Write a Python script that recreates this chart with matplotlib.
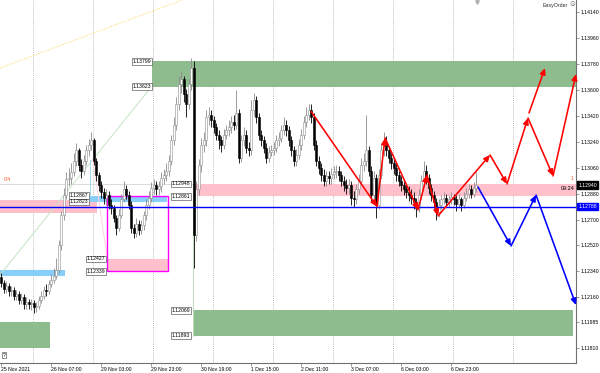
import matplotlib
matplotlib.use("Agg")
import matplotlib.pyplot as plt
import matplotlib.transforms as mtransforms
import numpy as np
from matplotlib.patches import Rectangle

plt.rcParams['font.family'] = ['Liberation Sans', 'DejaVu Sans']

# EURUSD H1, bars from 25 Nov 2021 11:00 to 7 Dec 2021 09:00
first_open = 1.1230
close = [1.1226, 1.1222, 1.1224, 1.1220, 1.1221, 1.1217, 1.1218, 1.1214, 1.1216, 1.1211,
         1.1213, 1.1211, 1.1212, 1.1209, 1.1210, 1.1214, 1.1217, 1.1221, 1.1220, 1.1225,
         1.1228, 1.1231, 1.1235, 1.1252, 1.1273, 1.1287, 1.1298, 1.1299, 1.1303, 1.1311,
         1.1318, 1.1308, 1.1304, 1.1311, 1.1318, 1.1322, 1.1325, 1.1311, 1.1301, 1.1294,
         1.1289, 1.1285, 1.1287, 1.1280, 1.1278, 1.1271, 1.1264, 1.1273, 1.1284, 1.1291,
         1.1287, 1.1280, 1.1264, 1.1261, 1.1267, 1.1263, 1.1266, 1.1273, 1.1280, 1.1285,
         1.1292, 1.1294, 1.1291, 1.1293, 1.1299, 1.1301, 1.1304, 1.1311, 1.1325, 1.1336,
         1.1350, 1.1364, 1.1368, 1.1357, 1.1350, 1.1364, 1.1375, 1.1259, 1.1291, 1.1308,
         1.1322, 1.1325, 1.1341, 1.1343, 1.1339, 1.1334, 1.1329, 1.1325, 1.1322, 1.1329,
         1.1332, 1.1334, 1.1338, 1.1336, 1.1344, 1.1313, 1.1325, 1.1329, 1.1320, 1.1318,
         1.1346, 1.1353, 1.1341, 1.1329, 1.1325, 1.1320, 1.1313, 1.1317, 1.1318, 1.1320,
         1.1325, 1.1327, 1.1332, 1.1336, 1.1332, 1.1325, 1.1318, 1.1311, 1.1315, 1.1322,
         1.1329, 1.1338, 1.1343, 1.1346, 1.1341, 1.1322, 1.1311, 1.1306, 1.1301, 1.1297,
         1.1300, 1.1299, 1.1302, 1.1303, 1.1304, 1.1301, 1.1297, 1.1294, 1.1292, 1.1294,
         1.1285, 1.1284, 1.1291, 1.1297, 1.1308, 1.1311, 1.1318, 1.1304, 1.1287, 1.1299,
         1.1280, 1.1301, 1.1318, 1.1324, 1.1318, 1.1313, 1.1309, 1.1306, 1.1301, 1.1297,
         1.1294, 1.1291, 1.1289, 1.1287, 1.1285, 1.1282, 1.1278, 1.1287, 1.1297, 1.1304,
         1.1299, 1.1292, 1.1287, 1.1282, 1.1275, 1.1280, 1.1284, 1.1285, 1.1282, 1.1284,
         1.1286, 1.1284, 1.1281, 1.1284, 1.1280, 1.1285, 1.1288, 1.1291, 1.1288, 1.1292,
         1.1294]
high = [1.1233, 1.1228, 1.1227, 1.1226, 1.1224, 1.1223, 1.1221, 1.1220, 1.1219, 1.1218,
        1.1216, 1.1215, 1.1215, 1.1214, 1.1213, 1.1217, 1.1220, 1.1224, 1.1225, 1.1228,
        1.1232, 1.1236, 1.1243, 1.1256, 1.1276, 1.1292, 1.1303, 1.1306, 1.1309, 1.1316,
        1.1323, 1.1320, 1.1312, 1.1315, 1.1322, 1.1326, 1.1331, 1.1327, 1.1313, 1.1303,
        1.1297, 1.1292, 1.1291, 1.1290, 1.1284, 1.1280, 1.1273, 1.1277, 1.1288, 1.1297,
        1.1294, 1.1290, 1.1283, 1.1267, 1.1271, 1.1270, 1.1270, 1.1276, 1.1284, 1.1290,
        1.1296, 1.1298, 1.1297, 1.1297, 1.1303, 1.1305, 1.1309, 1.1315, 1.1329, 1.1341,
        1.1355, 1.1370, 1.1373, 1.1370, 1.1361, 1.1368, 1.1382, 1.1380, 1.1297, 1.1312,
        1.1327, 1.1331, 1.1346, 1.1348, 1.1346, 1.1342, 1.1337, 1.1332, 1.1328, 1.1333,
        1.1336, 1.1339, 1.1342, 1.1343, 1.1360, 1.1347, 1.1329, 1.1334, 1.1332, 1.1324,
        1.1353, 1.1358, 1.1356, 1.1344, 1.1332, 1.1328, 1.1323, 1.1321, 1.1322, 1.1324,
        1.1329, 1.1331, 1.1336, 1.1341, 1.1339, 1.1335, 1.1328, 1.1321, 1.1319, 1.1326,
        1.1333, 1.1342, 1.1348, 1.1350, 1.1350, 1.1344, 1.1325, 1.1314, 1.1309, 1.1305,
        1.1304, 1.1304, 1.1306, 1.1307, 1.1308, 1.1307, 1.1304, 1.1300, 1.1298, 1.1298,
        1.1297, 1.1290, 1.1295, 1.1302, 1.1313, 1.1316, 1.1343, 1.1321, 1.1307, 1.1304,
        1.1302, 1.1305, 1.1323, 1.1331, 1.1328, 1.1321, 1.1316, 1.1312, 1.1309, 1.1304,
        1.1300, 1.1297, 1.1295, 1.1293, 1.1291, 1.1289, 1.1285, 1.1291, 1.1301, 1.1311,
        1.1308, 1.1302, 1.1295, 1.1290, 1.1285, 1.1284, 1.1287, 1.1289, 1.1288, 1.1287,
        1.1289, 1.1288, 1.1287, 1.1288, 1.1286, 1.1289, 1.1292, 1.1295, 1.1294, 1.1296,
        1.1303]
low = [1.1223, 1.1219, 1.1219, 1.1217, 1.1217, 1.1214, 1.1214, 1.1211, 1.1211, 1.1208,
       1.1208, 1.1208, 1.1207, 1.1205, 1.1206, 1.1208, 1.1212, 1.1215, 1.1217, 1.1218,
       1.1223, 1.1226, 1.1229, 1.1233, 1.1249, 1.1270, 1.1284, 1.1293, 1.1295, 1.1300,
       1.1307, 1.1304, 1.1299, 1.1301, 1.1308, 1.1314, 1.1318, 1.1308, 1.1297, 1.1290,
       1.1285, 1.1281, 1.1280, 1.1277, 1.1274, 1.1268, 1.1259, 1.1262, 1.1271, 1.1282,
       1.1284, 1.1277, 1.1261, 1.1257, 1.1258, 1.1259, 1.1260, 1.1263, 1.1270, 1.1277,
       1.1282, 1.1288, 1.1287, 1.1287, 1.1289, 1.1295, 1.1297, 1.1300, 1.1308, 1.1322,
       1.1332, 1.1346, 1.1358, 1.1352, 1.1341, 1.1347, 1.1360, 1.1236, 1.1255, 1.1287,
       1.1303, 1.1317, 1.1321, 1.1336, 1.1334, 1.1330, 1.1325, 1.1319, 1.1317, 1.1319,
       1.1326, 1.1328, 1.1330, 1.1332, 1.1333, 1.1309, 1.1310, 1.1321, 1.1316, 1.1314,
       1.1315, 1.1342, 1.1337, 1.1325, 1.1321, 1.1316, 1.1309, 1.1310, 1.1314, 1.1315,
       1.1317, 1.1321, 1.1324, 1.1329, 1.1328, 1.1321, 1.1314, 1.1307, 1.1307, 1.1312,
       1.1318, 1.1326, 1.1334, 1.1339, 1.1337, 1.1318, 1.1307, 1.1302, 1.1297, 1.1293,
       1.1293, 1.1295, 1.1295, 1.1298, 1.1299, 1.1297, 1.1293, 1.1290, 1.1288, 1.1288,
       1.1280, 1.1279, 1.1281, 1.1288, 1.1294, 1.1304, 1.1307, 1.1300, 1.1283, 1.1284,
       1.1271, 1.1277, 1.1298, 1.1314, 1.1314, 1.1309, 1.1305, 1.1302, 1.1297, 1.1293,
       1.1290, 1.1287, 1.1285, 1.1283, 1.1281, 1.1277, 1.1272, 1.1275, 1.1284, 1.1294,
       1.1295, 1.1288, 1.1283, 1.1278, 1.1270, 1.1272, 1.1277, 1.1281, 1.1279, 1.1279,
       1.1281, 1.1280, 1.1276, 1.1278, 1.1276, 1.1278, 1.1283, 1.1285, 1.1285, 1.1286,
       1.1289]

date_bars = [0, 20, 40, 60, 80, 100, 120, 140, 160, 180]
date_labels = ["25 Nov 2021", "26 Nov 07:00", "29 Nov 03:00", "29 Nov 23:00", "30 Nov 19:00",
               "1 Dec 15:00", "2 Dec 11:00", "3 Dec 07:00", "6 Dec 03:00", "6 Dec 23:00"]
day_starts = [13, 37, 61, 85, 109, 133, 157, 181, 205]
price_ticks = [1.14140, 1.13960, 1.13780, 1.13600, 1.13420, 1.13240, 1.13060,
               1.12880, 1.12700, 1.12520, 1.12340, 1.12160, 1.11985, 1.11810]
bid = 1.12940
blue_level = 1.12788
gray_level = 1.12948

# zones: bar from, bar to, upper price, lower price, colour
zones = [
    (60.3, 230.0, 1.13799, 1.13623, '#8fbc8f'),
    (76.7, 228.7, 1.12069, 1.11893, '#8fbc8f'),
    (-0.5, 19.5, 1.11986, 1.11810, '#8fbc8f'),
    (76.7, 230.0, 1.12948, 1.12861, '#ffc0cb'),
    (-0.5, 38.3, 1.12836, 1.12748, '#ffc0cb'),
    (42.5, 66.5, 1.12427, 1.12339, '#ffc0cb'),
    (35.5, 66.3, 1.12867, 1.12823, '#87cefa'),
    (-0.5, 25.5, 1.12349, 1.12310, '#87cefa'),
]
magenta_box = (42.3, 66.7, 1.12867, 1.12339)

# price tags: right edge bar, price
tags = [(59.9, 1.13799), (59.9, 1.13623), (75.6, 1.12948), (75.6, 1.12861),
        (75.6, 1.12069), (75.6, 1.11893), (34.7, 1.12867), (34.7, 1.12823),
        (41.6, 1.12427), (41.6, 1.12339)]

# thin trend lines: (bar0, price0, bar1, price1, colour, style)
trend_lines = [
    (-0.5, 1.13753, 72.3, 1.14226, '#ffd24d', ':'),
    (-0.5, 1.12315, 60.3, 1.13628, '#c4e4c4', '-'),
    (36.7, 1.13114, 42.3, 1.12440, '#ffd3dc', '-'),
    (35.5, 1.13114, 35.5, 1.12871, '#a6d8f2', '-'),
    (76.7, 1.12948, 76.7, 1.11893, '#b8dcb8', '-'),
]

red_hist_bars = [124.0, 150.3, 153.5, 166.7, 170.3, 174.7, 195.5, 202.3, 210.7]
red_hist_prices = [1.13450, 1.12790, 1.13267, 1.12767, 1.13010, 1.12725, 1.13149, 1.12947, 1.13406]
red_a_bars = [211.1, 217.5]
red_a_prices = [1.13441, 1.13753]
red_b_bars = [210.7, 220.7, 229.9]
red_b_prices = [1.13406, 1.13003, 1.13712]
blue_bars = [190.7, 203.9, 213.9, 229.9]
blue_prices = [1.12926, 1.12516, 1.12871, 1.12106]

fig = plt.figure(figsize=(6.0, 3.73), dpi=100)
ax = fig.add_axes([0.0, 10 / 373, 576 / 600, 363 / 373])
ax.set_xlim(-0.5, 229.9)
ax.set_ylim(1.11703, 1.14226)

# vertical grid on day starts
for d in day_starts:
    ax.axvline(d - 0.5, color='#a8a8a8', lw=0.6, ls=(0, (1, 1.5)), zorder=0)

for b0, b1, hi, lo, col in zones:
    ax.add_patch(Rectangle((b0, lo), b1 - b0, hi - lo, facecolor=col, edgecolor='none', zorder=1))
b0, b1, hi, lo = magenta_box
ax.add_patch(Rectangle((b0, lo), b1 - b0, hi - lo, facecolor='none', edgecolor='#ff00ff', lw=1.0, zorder=2))

for x0, y0, x1, y1, col, ls in trend_lines:
    ax.plot([x0, x1], [y0, y1], color=col, lw=0.7, ls=ls, zorder=1.5)

ax.axhline(gray_level, color='#d4d4d4', lw=0.6, zorder=0.5)

# candles
n = len(close)
x = np.arange(n)
c = np.array(close)
o = np.concatenate([[first_open], c[:-1]])
h = np.maximum(np.array(high), np.maximum(o, c))
l = np.minimum(np.array(low), np.minimum(o, c))
up = c >= o
ax.vlines(x[up], l[up], h[up], color='#8c8c8c', lw=0.6, zorder=3)
ax.vlines(x[~up], l[~up], h[~up], color='black', lw=0.6, zorder=3)
body = np.maximum(np.abs(c - o), 0.00003)
ax.bar(x[up], body[up], bottom=np.minimum(o, c)[up], width=0.62,
       facecolor='white', edgecolor='#8c8c8c', lw=0.4, zorder=4)
ax.bar(x[~up], body[~up], bottom=np.minimum(o, c)[~up], width=0.62,
       facecolor='black', edgecolor='black', lw=0.4, zorder=4)

ax.axhline(blue_level, color='#0000ff', lw=1.0, zorder=5)


def arrow_path(bars, prices, col):
    for i in range(len(bars) - 1):
        ax.annotate('', xy=(bars[i + 1], prices[i + 1]), xytext=(bars[i], prices[i]),
                    arrowprops=dict(arrowstyle='-|>,head_length=0.55,head_width=0.25',
                                    color=col, lw=1.15, shrinkA=0, shrinkB=0, mutation_scale=6.5),
                    annotation_clip=False, zorder=6)


arrow_path(red_hist_bars, red_hist_prices, '#ff0000')
arrow_path(red_a_bars, red_a_prices, '#ff0000')
arrow_path(red_b_bars, red_b_prices, '#ff0000')
arrow_path(blue_bars, blue_prices, '#0000ff')

for b, p in tags:
    ax.text(b, p, f"{p:.5f}", ha='right', va='center', fontsize=3.7, color='black', zorder=7,
            bbox=dict(boxstyle='square,pad=0.15', facecolor='white', edgecolor='#606060', lw=0.5))

# axes
for s in ['left', 'top']:
    ax.spines[s].set_visible(False)
for s in ['right', 'bottom']:
    ax.spines[s].set_color('#707070')
    ax.spines[s].set_linewidth(0.8)
ax.yaxis.tick_right()
ax.set_yticks(price_ticks)
ax.set_yticklabels([f"{p:.5f}" for p in price_ticks])
ax.set_xticks(date_bars)
ax.set_xticklabels(date_labels, ha='left')
ax.tick_params(axis='y', direction='out', length=2, width=0.5, color='#707070',
               labelsize=3.7, pad=1.5)
ax.tick_params(axis='x', direction='out', length=2, width=0.5, color='#707070',
               labelsize=3.7, pad=0.8)

yx = mtransforms.blended_transform_factory(ax.transAxes, ax.transData)
ax.text(1.004, bid, f"{bid:.5f}", transform=yx, ha='left', va='center', fontsize=3.7,
        color='white', zorder=8, clip_on=False,
        bbox=dict(boxstyle='square,pad=0.2', facecolor='black', edgecolor='black'))
ax.text(1.004, blue_level, f"{blue_level:.5f}", transform=yx, ha='left', va='center',
        fontsize=3.7, color='white', zorder=8, clip_on=False,
        bbox=dict(boxstyle='square,pad=0.2', facecolor='#0000ff', edgecolor='#0000ff'))

ax.text(1.0, 1.12975, "0/4", fontsize=3.7, color='#ff5a1f', ha='left', va='center', zorder=7)
ax.text(228.3, 1.12985, "1", fontsize=3.7, color='#ff5a1f', ha='center', va='center', zorder=7)
ax.text(229.3, 1.12915, "09:24", fontsize=4, color='black', ha='right', va='center', zorder=7)
ax.text(543 / 576, 1 - 5 / 363, "EasyOrder", transform=ax.transAxes, fontsize=3.8,
        color='#303030', ha='left', va='center')
ax.text(572 / 576, 1 - 5 / 363, "\u263a", transform=ax.transAxes, fontsize=5.5,
        color='#505050', ha='center', va='center')
ax.text(0.004, 0.022, "?", transform=ax.transAxes, fontsize=3.6, ha='left', va='center',
        bbox=dict(boxstyle='square,pad=0.15', facecolor='white', edgecolor='#606060', lw=0.5))
ax.plot([190.3], [1.1421], marker='v', color='#b0b0b0', ms=2.5, clip_on=False)

fig.savefig("out.png", dpi=100, facecolor='white')
